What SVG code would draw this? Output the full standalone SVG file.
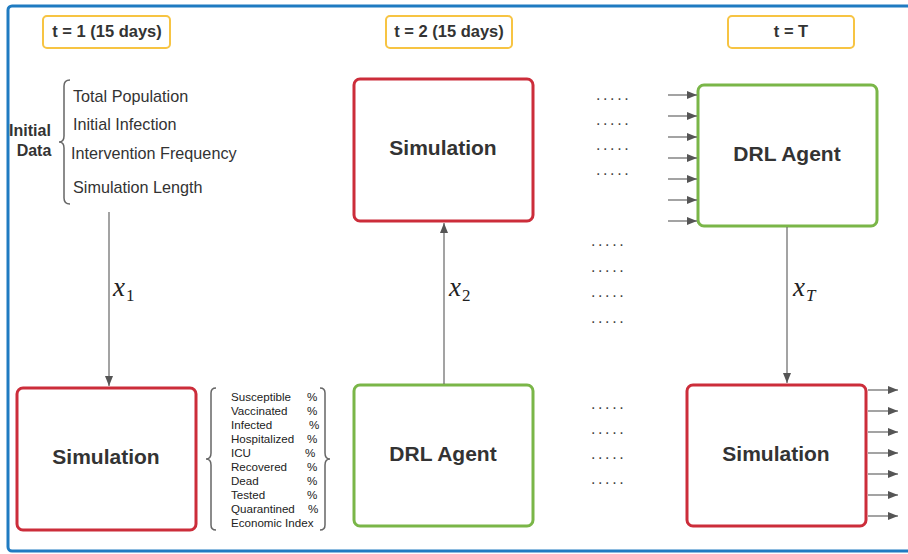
<svg xmlns="http://www.w3.org/2000/svg" width="908" height="554" viewBox="0 0 908 554">
<style>
text{font-family:"Liberation Sans",Arial,sans-serif;fill:#333}
.lbl{fill:#fff;stroke:#f7c443;stroke-width:2}
.tl{font-size:16.5px;font-weight:bold;text-anchor:middle}
.sim{fill:#fff;stroke:#cc2d3a;stroke-width:3}
.drl{fill:#fff;stroke:#7ab648;stroke-width:3}
.big{font-size:21px;font-weight:bold;text-anchor:middle}
.item{font-size:16.2px}
.sm{font-size:11.6px;fill:#222}
.line{stroke:#666;stroke-width:1.2;fill:none}
.brace{stroke:#666;stroke-width:1.5;fill:none}
.dots{font-size:16px;letter-spacing:2.6px;fill:#444}
.var{font-family:"Liberation Serif","Times New Roman",serif;font-style:italic;font-size:27px;fill:#222}
.sub{font-family:"Liberation Serif","Times New Roman",serif;font-size:17px;font-style:normal}
</style>
<defs>
<marker id="ah" markerWidth="11" markerHeight="9" refX="10" refY="4.5" orient="auto" markerUnits="userSpaceOnUse">
<path d="M0,0.5 L10,4.5 L0,8.5 Z" fill="#555"/>
</marker>
</defs>
<rect x="8" y="6" width="910" height="545" rx="4" fill="none" stroke="#1f7bc1" stroke-width="3"/>

<g id="label-t1"><rect class="lbl" x="43" y="16" width="127" height="32" rx="4"/><text class="tl" x="107" y="37">t = 1 (15 days)</text></g>
<g id="label-t2"><rect class="lbl" x="386" y="16" width="126" height="32" rx="4"/><text class="tl" x="449" y="37">t = 2 (15 days)</text></g>
<g id="label-tT"><rect class="lbl" x="728" y="16" width="126" height="32" rx="4"/><text class="tl" x="791" y="37">t = T</text></g>

<g id="initial-data">
<text x="30" y="136" style="font-size:16px;font-weight:bold;text-anchor:middle">Initial</text>
<text x="34" y="156" style="font-size:16px;font-weight:bold;text-anchor:middle">Data</text>
<path class="brace" d="M70,80 Q64,80 64,86 L64,136 Q64,142 59,142 Q64,142 64,148 L64,198 Q64,204 70,204"/>
<text class="item" x="73" y="102">Total Population</text>
<text class="item" x="73" y="130">Initial Infection</text>
<text class="item" x="71" y="159">Intervention Frequency</text>
<text class="item" x="73" y="193">Simulation Length</text>
</g>

<g id="sim1"><rect class="sim" x="17" y="388" width="179" height="142" rx="6"/><text class="big" x="106" y="464">Simulation</text></g>

<g id="outputs">
<path class="brace" d="M216,388 Q211,388 211,393 L211,453 Q211,459 206,459 Q211,459 211,465 L211,525 Q211,530 216,530"/>
<path class="brace" d="M320,388 Q325,388 325,393 L325,453 Q325,459 330,459 Q325,459 325,465 L325,525 Q325,530 320,530"/>
<text class="sm" x="231" y="401">Susceptible</text><text class="sm" x="307" y="401">%</text>
<text class="sm" x="231" y="415">Vaccinated</text><text class="sm" x="307" y="415">%</text>
<text class="sm" x="231" y="429">Infected</text><text class="sm" x="309" y="429">%</text>
<text class="sm" x="231" y="443">Hospitalized</text><text class="sm" x="307" y="443">%</text>
<text class="sm" x="231" y="457">ICU</text><text class="sm" x="305" y="457">%</text>
<text class="sm" x="231" y="471">Recovered</text><text class="sm" x="307" y="471">%</text>
<text class="sm" x="231" y="485">Dead</text><text class="sm" x="307" y="485">%</text>
<text class="sm" x="231" y="499">Tested</text><text class="sm" x="307" y="499">%</text>
<text class="sm" x="231" y="513">Quarantined</text><text class="sm" x="308" y="513">%</text>
<text class="sm" x="231" y="527">Economic Index</text>
</g>

<g id="sim2"><rect class="sim" x="354" y="79" width="179" height="142" rx="6"/><text class="big" x="443" y="155">Simulation</text></g>
<g id="drl2"><rect class="drl" x="354" y="385" width="179" height="141" rx="6"/><text class="big" x="443" y="461">DRL Agent</text></g>
<g id="drlT"><rect class="drl" x="698" y="85" width="179" height="141" rx="6"/><text class="big" x="787" y="161">DRL Agent</text></g>
<g id="simT"><rect class="sim" x="687" y="385" width="179" height="141" rx="6"/><text class="big" x="776" y="461">Simulation</text></g>

<g id="dots">
<text class="dots" x="596" y="100">.....</text>
<text class="dots" x="596" y="125">.....</text>
<text class="dots" x="596" y="150">.....</text>
<text class="dots" x="596" y="175">.....</text>
<text class="dots" x="591" y="246">.....</text>
<text class="dots" x="591" y="272">.....</text>
<text class="dots" x="591" y="297">.....</text>
<text class="dots" x="591" y="323">.....</text>
<text class="dots" x="591" y="409">.....</text>
<text class="dots" x="591" y="434">.....</text>
<text class="dots" x="591" y="459">.....</text>
<text class="dots" x="591" y="484">.....</text>
</g>

<g id="connectors">
<line class="line" x1="109" y1="212" x2="109" y2="386" marker-end="url(#ah)"/>
<line class="line" x1="444" y1="384" x2="444" y2="223" marker-end="url(#ah)"/>
<line class="line" x1="787" y1="227" x2="787" y2="383" marker-end="url(#ah)"/>
<line class="line" x1="668" y1="95" x2="697" y2="95" marker-end="url(#ah)"/>
<line class="line" x1="668" y1="116" x2="697" y2="116" marker-end="url(#ah)"/>
<line class="line" x1="668" y1="137" x2="697" y2="137" marker-end="url(#ah)"/>
<line class="line" x1="668" y1="158" x2="697" y2="158" marker-end="url(#ah)"/>
<line class="line" x1="668" y1="179" x2="697" y2="179" marker-end="url(#ah)"/>
<line class="line" x1="668" y1="200" x2="697" y2="200" marker-end="url(#ah)"/>
<line class="line" x1="668" y1="221" x2="697" y2="221" marker-end="url(#ah)"/>
<line class="line" x1="868" y1="390" x2="898" y2="390" marker-end="url(#ah)"/>
<line class="line" x1="868" y1="411" x2="898" y2="411" marker-end="url(#ah)"/>
<line class="line" x1="868" y1="432" x2="898" y2="432" marker-end="url(#ah)"/>
<line class="line" x1="868" y1="453" x2="898" y2="453" marker-end="url(#ah)"/>
<line class="line" x1="868" y1="474" x2="898" y2="474" marker-end="url(#ah)"/>
<line class="line" x1="868" y1="495" x2="898" y2="495" marker-end="url(#ah)"/>
<line class="line" x1="868" y1="516" x2="898" y2="516" marker-end="url(#ah)"/>
<text class="var" x="113" y="296">x<tspan class="sub" dx="1" dy="5">1</tspan></text>
<text class="var" x="449" y="296">x<tspan class="sub" dx="1" dy="5">2</tspan></text>
<text class="var" x="793" y="296">x<tspan class="sub" dx="1" dy="5" style="font-style:italic">T</tspan></text>
</g>
</svg>
